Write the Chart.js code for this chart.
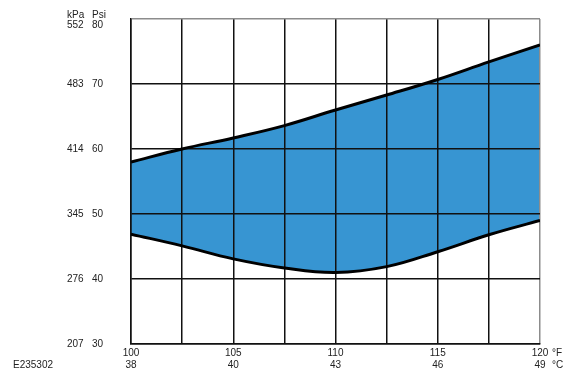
<!DOCTYPE html>
<html>
<head>
<meta charset="utf-8">
<script src="https://cdn.jsdelivr.net/npm/chart.js@4.4.1/dist/chart.umd.min.js"></script>
<style>
  html, body { margin: 0; padding: 0; background: #fff; }
  #wrap { width: 580px; height: 379px; }
</style>
</head>
<body>
<div id="wrap"><canvas id="chart" width="580" height="379"></canvas></div>
<script>
const FAHRENHEIT_TICKS = [100, 105, 110, 115, 120];
const CELSIUS_LABELS = ['38', '40', '43', '46', '49'];
const PSI_TICKS = [30, 40, 50, 60, 70, 80];
const KPA_LABELS = ['207', '276', '345', '414', '483', '552'];

const TEMP_F = [100, 102.5, 105, 107.5, 110, 112.5, 115, 117.5, 120];
const UPPER_PSI = [58.0, 60.0, 61.7, 63.6, 66.0, 68.3, 70.7, 73.4, 76.0];
const LOWER_PSI = [46.9, 45.1, 43.1, 41.7, 41.0, 41.9, 44.2, 46.8, 49.0];

const FONT = '"Liberation Sans", Arial, sans-serif';
const TEXT = '#222';
const GRID = '#111';
const EDGE = '#8c8c8c';

const toPoints = (ys) => TEMP_F.map((t, i) => ({ x: t, y: ys[i] }));

// y labels (two columns) and unit marks, placed from the scales
const sideLabels = {
  id: 'sideLabels',
  afterDraw(chart) {
    const { ctx, scales: { x, y } } = chart;
    ctx.save();
    ctx.font = '10px ' + FONT;
    ctx.fillStyle = TEXT;
    ctx.textBaseline = 'middle';
    ctx.textAlign = 'left';

    ctx.fillText('kPa', 67, 15);
    ctx.fillText('Psi', 92, 15);

    PSI_TICKS.forEach((v, i) => {
      const py = Math.max(y.getPixelForValue(v), y.top + 6.5);
      ctx.fillText(KPA_LABELS[i], 67, py);
      ctx.fillText(String(v), 92, py);
    });

    const ux = x.getPixelForValue(120) + 12;
    ctx.fillText('°F', ux, x.top + 9.5);
    ctx.fillText('°C', ux, x.top + 21.5);

    ctx.fillText('E235302', 13, x.top + 21.5);
    ctx.restore();
  },
};

new Chart(document.getElementById('chart'), {
  type: 'line',
  data: {
    datasets: [
      {
        data: toPoints(UPPER_PSI),
        borderColor: '#000',
        borderWidth: 3,
        backgroundColor: '#3795d2',
        fill: '+1',
        pointRadius: 0,
        tension: 0.4,
      },
      {
        data: toPoints(LOWER_PSI),
        borderColor: '#000',
        borderWidth: 3,
        fill: false,
        pointRadius: 0,
        tension: 0.4,
      },
    ],
  },
  options: {
    responsive: false,
    animation: false,
    layout: { padding: { left: 131, right: 40, top: 19, bottom: 5 } },
    plugins: {
      legend: { display: false },
      tooltip: { enabled: false },
      filler: { drawTime: 'beforeDraw' },
    },
    scales: {
      x: {
        type: 'linear',
        min: 100,
        max: 120,
        grid: {
          color: (c) => (c.tick && c.tick.value === 120 ? EDGE : GRID),
          lineWidth: 1.5,
          drawTicks: false,
        },
        border: { display: true, color: GRID, width: 1.5 },
        ticks: {
          stepSize: 2.5,
          autoSkip: false,
          maxRotation: 0,
          padding: 3,
          color: TEXT,
          font: { family: FONT, size: 10, lineHeight: 1.2 },
          callback: (v) => {
            const i = FAHRENHEIT_TICKS.indexOf(v);
            return i >= 0 ? [String(v), CELSIUS_LABELS[i]] : '';
          },
        },
      },
      y: {
        min: 30,
        max: 80,
        grid: {
          color: (c) => (c.tick && c.tick.value === 80 ? EDGE : GRID),
          lineWidth: 1.5,
          drawTicks: false,
        },
        border: { display: true, color: GRID, width: 1.5 },
        ticks: { stepSize: 10, display: false },
      },
    },
  },
  plugins: [sideLabels],
});
</script>
</body>
</html>
